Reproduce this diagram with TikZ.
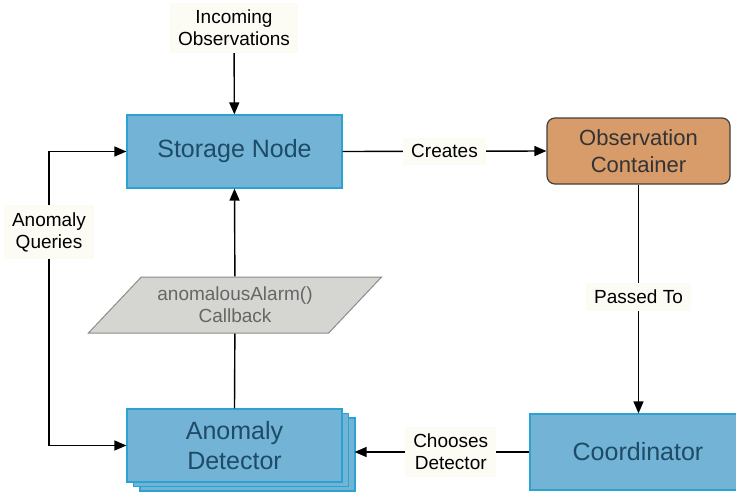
\documentclass[tikz,border=0pt]{standalone}
\usepackage{fontspec}
\setmainfont{Liberation Sans}
\usepackage{tikz}
\usetikzlibrary{arrows.meta,shapes.geometric,shadows}
\definecolor{boxblue}{HTML}{72B3D6}
\definecolor{edgeblue}{HTML}{2AA3D3}
\definecolor{textblue}{HTML}{1E4B66}
\definecolor{boxorange}{HTML}{D89B6A}
\definecolor{boxgray}{HTML}{D5D5D1}
\definecolor{lblbg}{HTML}{FCFCF5}
\tikzset{
    bluebox/.style={draw=edgeblue, line width=1.2pt, fill=boxblue, text=textblue,
        minimum width=215pt, minimum height=73pt, align=center,
        font=\fontsize{25}{30}\selectfont},
    orangebox/.style={draw=black!75, line width=1.2pt, fill=boxorange, text=black!80,
        rounded corners=8pt, minimum width=183pt, minimum height=66pt, align=center,
        font=\fontsize{22}{27}\selectfont},
    callbackbox/.style={trapezium, trapezium left angle=43, trapezium right angle=137,
        trapezium stretches=true, draw=black!45, line width=1pt, fill=boxgray, text=black!60,
        minimum width=294pt, minimum height=56pt, align=center,
        font=\fontsize{19}{22}\selectfont},
    lbl/.style={fill=lblbg, inner xsep=8pt, inner ysep=7pt, align=center,
        font=\fontsize{19}{22}\selectfont},
    link/.style={line width=1.4pt, -{Triangle[length=12pt,width=10pt]}}
}
\begin{document}
\begin{tikzpicture}[x=1pt,y=-1pt]
    \clip (0,0) rectangle (736,493);
    \fill[white] (0,0) rectangle (736,493);

    \node[bluebox] (store) at (234.5,151.5) {Storage Node};
    \node[orangebox] (cont) at (638.5,151) {Observation\\Container};
    \node[bluebox, minimum width=216pt, minimum height=76pt] (coord) at (638,452) {Coordinator};
    \node[bluebox, double copy shadow={shadow xshift=6.5pt, shadow yshift=-4.5pt}]
        (det) at (234.5,445.5) {Anomaly\\Detector};

    \node[lbl] (inc) at (234,28) {Incoming\\Observations};
    \node[lbl] (aq) at (49,232) {Anomaly\\Queries};

    \draw[link] (inc) -- (store);
    \draw[link] (store.east) -- node[lbl]{Creates} (cont.west);
    \draw[link] (cont.south) -- node[lbl, pos=0.49]{Passed To} (cont.south |- coord.north);
    \draw[link] (coord.west) -- node[lbl, pos=0.45]{Chooses\\Detector} ([xshift=12pt]coord.west -| det.east);
    \draw[link] (aq) |- (store.west);
    \draw[link] (aq) |- (det.west);

    \node[callbackbox] (cb) at (235,305) {anomalousAlarm()\\Callback};
    \draw[link] (det.north) -- (cb) -- (store.south);
\end{tikzpicture}
\end{document}
